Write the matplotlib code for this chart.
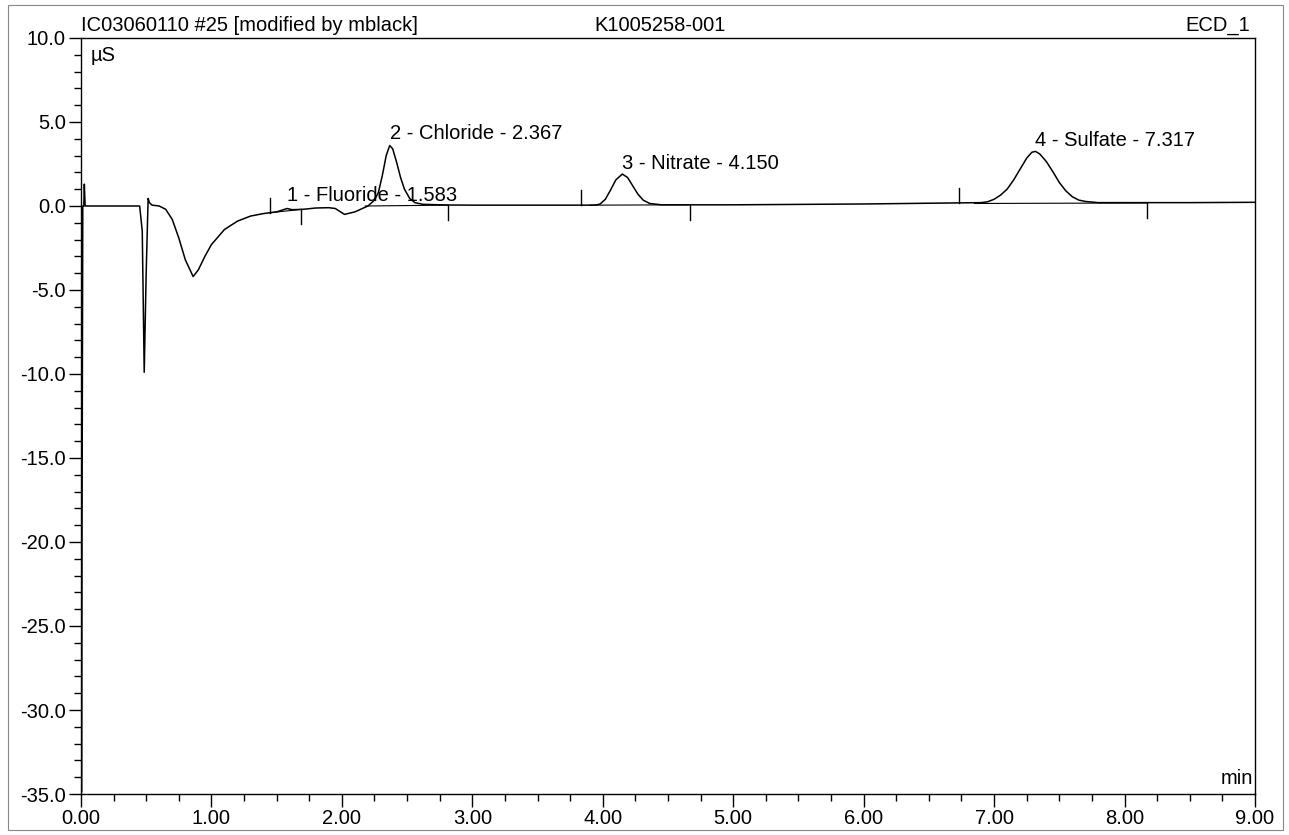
import matplotlib.pyplot as plt
from matplotlib.patches import Rectangle
from matplotlib.ticker import MultipleLocator, FormatStrFormatter

plt.rcParams["font.family"] = ["Liberation Sans", "DejaVu Sans"]

# chromatogram trace (time in min, signal in uS)
time_min = [
    0.00, 0.004, 0.008, 0.014, 0.022, 0.026, 0.032, 0.20, 0.45, 0.47, 0.485,
    0.50, 0.515, 0.525, 0.545, 0.60, 0.65, 0.70, 0.75, 0.80, 0.86, 0.90,
    0.95, 1.00, 1.10, 1.20, 1.30, 1.40, 1.50, 1.56, 1.58, 1.62, 1.70, 1.80,
    1.90, 1.95, 2.02, 2.10, 2.20, 2.25, 2.28, 2.31, 2.34, 2.367, 2.39, 2.42,
    2.45, 2.48, 2.52, 2.56, 2.62, 2.80, 3.00, 3.50, 3.90, 3.95, 3.98, 4.02,
    4.06, 4.10, 4.15, 4.19, 4.23, 4.27, 4.31, 4.36, 4.45, 5.00, 6.00, 6.90,
    6.95, 7.00, 7.05, 7.10, 7.15, 7.20, 7.25, 7.29, 7.317, 7.35, 7.40, 7.45,
    7.50, 7.55, 7.60, 7.65, 7.70, 7.80, 8.50, 9.00,
]
signal_uS = [
    0.00, -34.9, -20.0, 0.0, 0.0, 1.3, 0.0, 0.0, 0.0, -1.5, -9.9,
    -4.0, 0.45, 0.2, 0.05, 0.0, -0.2, -0.8, -1.9, -3.2, -4.2, -3.8,
    -3.0, -2.3, -1.4, -0.9, -0.6, -0.45, -0.35, -0.2, -0.15, -0.22, -0.2, -0.12,
    -0.1, -0.15, -0.5, -0.35, 0.0, 0.35, 0.8, 1.8, 3.0, 3.6, 3.4, 2.6,
    1.7, 1.0, 0.45, 0.2, 0.1, 0.06, 0.05, 0.05, 0.05, 0.06, 0.12, 0.4,
    0.95, 1.55, 1.9, 1.7, 1.2, 0.7, 0.35, 0.15, 0.07, 0.07, 0.12, 0.2,
    0.25, 0.4, 0.65, 1.0, 1.55, 2.2, 2.85, 3.2, 3.25, 3.1, 2.65, 2.05,
    1.4, 0.9, 0.55, 0.35, 0.27, 0.2, 0.2, 0.22,
]

# peak labels: text, retention time, label height
peak_names = ["1 - Fluoride - 1.583", "2 - Chloride - 2.367",
              "3 - Nitrate - 4.150", "4 - Sulfate - 7.317"]
peak_times = [1.583, 2.367, 4.150, 7.317]
peak_label_y = [0.05, 3.75, 1.95, 3.35]

# integration delimiter marks: time, baseline level, direction (+1 up / -1 down)
mark_times = [1.45, 1.69, 2.81, 3.83, 4.67, 6.73, 8.17]
mark_levels = [-0.4, -0.2, 0.05, 0.05, 0.07, 0.15, 0.18]
mark_dirs = [1, -1, -1, 1, -1, 1, -1]

# integration baselines drawn under peaks
base_x0 = [1.45, 2.18, 3.90, 6.85]
base_x1 = [1.69, 2.81, 4.67, 8.17]
base_y0 = [-0.4, 0.0, 0.05, 0.15]
base_y1 = [-0.2, 0.05, 0.07, 0.18]

FS = 14.5

fig = plt.figure(figsize=(12.89, 8.35), dpi=100)
ax = fig.add_axes([0.0628, 0.0491, 0.9108, 0.9054])

ax.plot(time_min, signal_uS, color="black", lw=1.1)
for x0, x1, y0, y1 in zip(base_x0, base_x1, base_y0, base_y1):
    ax.plot([x0, x1], [y0, y1], color="black", lw=0.8)
for t, lvl, d in zip(mark_times, mark_levels, mark_dirs):
    ax.plot([t, t], [lvl, lvl + d * 0.9], color="black", lw=1.0)

for name, t, y in zip(peak_names, peak_times, peak_label_y):
    ax.text(t, y, name, fontsize=FS, ha="left", va="bottom")

ax.set_xlim(0, 9)
ax.set_ylim(-35, 10)
ax.xaxis.set_major_locator(MultipleLocator(1))
ax.xaxis.set_minor_locator(MultipleLocator(0.25))
ax.yaxis.set_major_locator(MultipleLocator(5))
ax.yaxis.set_minor_locator(MultipleLocator(1))
ax.xaxis.set_major_formatter(FormatStrFormatter("%.2f"))
ax.yaxis.set_major_formatter(FormatStrFormatter("%.1f"))
ax.tick_params(which="major", length=9, width=1, labelsize=FS, pad=2)
ax.tick_params(which="minor", length=5, width=1)
for s in ax.spines.values():
    s.set_linewidth(1.0)

ax.text(0.008, 0.99, "µS", transform=ax.transAxes, fontsize=FS,
        ha="left", va="top")
ax.text(0.998, 0.008, "min", transform=ax.transAxes, fontsize=FS,
        ha="right", va="bottom")

fig.text(0.0628, 0.958, "IC03060110 #25 [modified by mblack]",
         fontsize=FS, ha="left", va="bottom")
fig.text(0.5117, 0.958, "K1005258-001", fontsize=FS, ha="center", va="bottom")
fig.text(0.970, 0.958, "ECD_1", fontsize=FS, ha="right", va="bottom")

fig.patches.append(Rectangle((0.006, 0.006), 0.989, 0.988, transform=fig.transFigure,
                             fill=False, edgecolor="#888888", lw=0.8))

fig.savefig("out.png", dpi=100)
